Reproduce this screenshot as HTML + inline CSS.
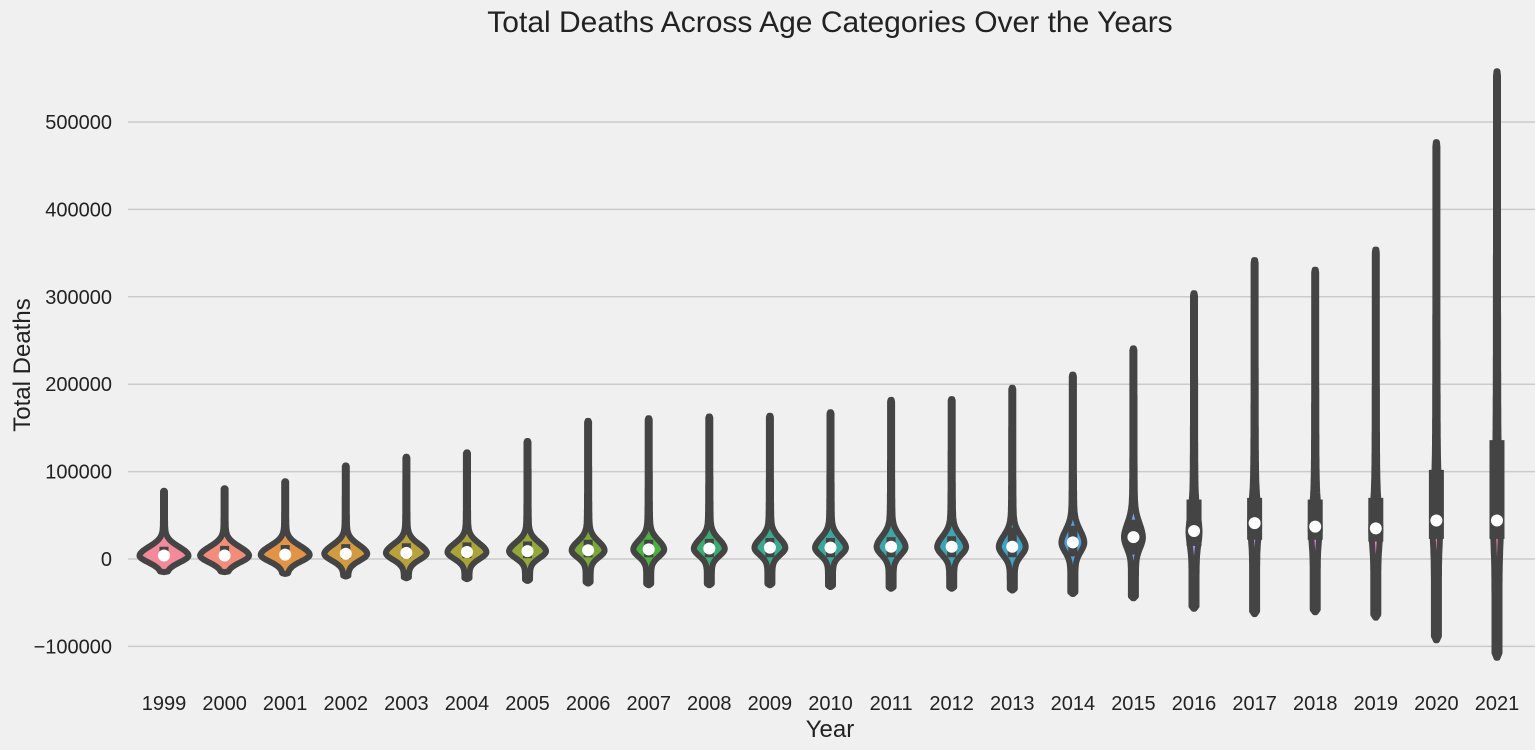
<!DOCTYPE html>
<html><head><meta charset="utf-8"><style>
html,body{margin:0;padding:0;background:#f0f0f0;}
svg{display:block;font-family:"Liberation Sans","DejaVu Sans",sans-serif;}
</style></head><body>
<svg id="chart" width="1535" height="750" viewBox="0 0 1535 750">
<rect width="1535" height="750" fill="#f0f0f0"/>
<text x="830" y="32" text-anchor="middle" font-size="30" fill="#222">Total Deaths Across Age Categories Over the Years</text>
<text x="830" y="737" text-anchor="middle" font-size="24" fill="#222">Year</text>
<text transform="translate(30,365) rotate(-90)" text-anchor="middle" font-size="24" fill="#222">Total Deaths</text>
<g id="grid"></g><g id="yt"></g><g id="xt"></g><g id="vio"></g>
</svg>
<script>
const years=[1999,2000,2001,2002,2003,2004,2005,2006,2007,2008,2009,2010,2011,2012,2013,2014,2015,2016,2017,2018,2019,2020,2021];
const mins=[-15,-15,-17,-20,-22,-23,-25,-28,-30,-30,-30,-32,-34,-34,-36,-40,-45,-57,-63,-61,-67,-93,-113];
const maxs=[78,81,89,107,117,122,135,158,161,163,164,168,182,183,196,211,241,304,342,331,354,477,558];
const medians=[4,4,5,6,7,8,9,10,11,12,13,13,14,14,14,19,25,32,41,37,35,44,44];
const q1s=[0,0,0,0,1,1,1,2,2,2,2,2,2,2,2,3,5,15,22,22,20,23,23];
const q3s=[14,15,16,17,18,19,20,22,22,23,24,24,25,26,36,38,45,68,70,68,70,102,136];
const peaks=[22,22,22,19,18,17,16,14,13,13,13,13,12,12,11,9,7,3,2,2,2,1.5,1.5];
const colors=["#f4899a","#f28d7c","#e39346","#d39b3f","#b9a23b","#a9a43a","#93a73a","#7aa93a","#4caf3f","#3aac72","#3aa98d","#3ba79b","#3ca6a8","#3da4b4","#40a2c6","#52a0e0","#7a9cf4","#a096f4","#c38cf4","#de82ec","#ef82d3","#f285bf","#f488ad"];
const yTicks=[-100000,0,100000,200000,300000,400000,500000];
const NS="http://www.w3.org/2000/svg";
const X0=128,X1=1535;
function yS(v){return 559-v*0.000874;}
function xS(i){return 164+i*60.59;}
function mk(t,a,p){const e=document.createElementNS(NS,t);for(const k in a)e.setAttribute(k,a[k]);p.appendChild(e);return e;}
const grid=document.getElementById('grid'),yt=document.getElementById('yt'),xt=document.getElementById('xt'),vio=document.getElementById('vio');
yTicks.forEach(v=>{
  const l=mk('line',{x1:X0,x2:X1,y1:yS(v),y2:yS(v),stroke:'#cbcbcb','stroke-width':1.5},grid);
  
  
  const t=mk('text',{x:112,y:yS(v)+7,'text-anchor':'end','font-size':20,fill:'#222'},yt);
  t.textContent=(v<0?'\u2212':'')+Math.abs(v);
  
  
});
years.forEach((yr,i)=>{
  const t=mk('text',{x:xS(i),y:710,'text-anchor':'middle','font-size':20,fill:'#222'},xt);
  t.textContent=yr;
  
  
  const cx=xS(i),mn=mins[i]*1000,mx=maxs[i]*1000,c=medians[i]*1000,w=peaks[i];
  const s=Math.max(11000,(mx-mn)*0.06);
  const N=120,pts=[];
  for(let k=0;k<=N;k++){
    const v=mn+(mx-mn)*k/N;
    const d=(v-c)/s;
    let hw=w*Math.exp(-d*d*(d<0?1.0:0.6))+1.0+1.5*Math.exp(-Math.max(0,v-c)/((mx-c)*0.15));
    if(k===0||k===N)hw=0.5;
    pts.push([hw,yS(v)]);
  }
  let dStr='';
  pts.forEach((p,k)=>{dStr+=(k?'L':'M')+(cx+p[0]).toFixed(1)+','+p[1].toFixed(1);});
  for(let k=pts.length-1;k>=0;k--)dStr+='L'+(cx-pts[k][0]).toFixed(1)+','+pts[k][1].toFixed(1);
  dStr+='Z';
  const g=mk('g',{},vio);
  
  
  const p=mk('path',{d:dStr,fill:colors[i],stroke:'#444','stroke-width':6,'stroke-linejoin':'round'},g);
  
  
  const bw=i>=16?15:9;
  const b=mk('rect',{x:cx-bw/2,y:yS(q3s[i]*1000),width:bw,height:yS(q1s[i]*1000)-yS(q3s[i]*1000),fill:'#444'},g);
  
  
  const m=mk('circle',{cx:cx,cy:yS(c),r:6,fill:'#fff'},g);
  
  
});
</script>
</body></html>
